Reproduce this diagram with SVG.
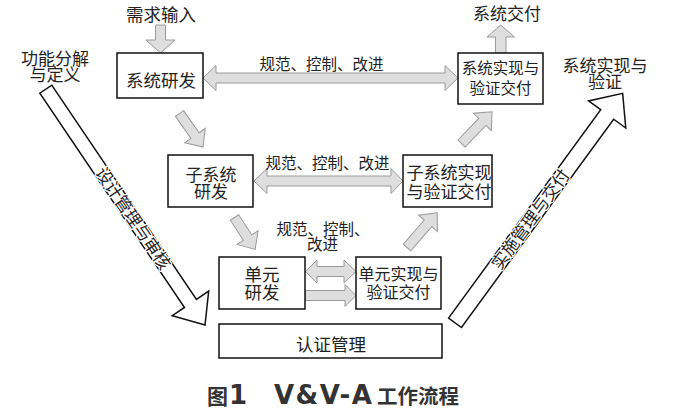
<svg xmlns="http://www.w3.org/2000/svg" width="673" height="414" viewBox="0 0 673 414">
<style>
.box{fill:#fff;stroke:#111;stroke-width:1.5}
.t{font-family:"Noto Sans CJK SC","Noto Sans",sans-serif;fill:#222;text-anchor:middle}
.ga{fill:#dedede;stroke:#9a9a9a;stroke-width:1}
.ba{fill:#fff;stroke:#111;stroke-width:1.5}
.halo{paint-order:stroke;stroke:#fff;stroke-width:2.5;stroke-linejoin:round}
.cap{font-family:"Noto Sans CJK SC","DejaVu Sans",sans-serif;font-weight:bold;fill:#333}
.lat{font-family:"DejaVu Sans",sans-serif;font-size:26px}
</style>
<rect width="673" height="414" fill="#fff"/>

<g id="connectors">
  <path class="ga" d="M155.5,25 H165.5 V40 H175 L160.5,53 L146,40 H155.5 Z"/>
  <path class="ga" d="M495.5,53 V37 H487 L500.7,25 L514.5,37 H506 V53 Z"/>
  <path class="ga" d="M203,78 L216,65.5 V73 H445 V65.5 L458,78 L445,90.5 V83 H216 V90.5 Z"/>
  <path class="ga" d="M254,181 L267,168.5 V176 H391 V168.5 L403,181 L391,193.5 V186 H267 V193.5 Z"/>
  <path class="ga" d="M305.5,271.5 L317,260 V266.5 H344 V260 L356,271.5 L344,283 V276.5 H317 V283 Z"/>
  <path class="ga" d="M305.5,290.5 H345 V284.5 L356,295.5 L345,306.5 V300.5 H305.5 Z"/>
  <path class="ga" transform="translate(179.5,113.5) rotate(54.9)" d="M0,-5 H27 V-12.5 L41,0 L27,12.5 V5 H0 Z"/>
  <path class="ga" transform="translate(234.5,217.5) rotate(57)" d="M0,-5 H24 V-12.5 L38,0 L24,12.5 V5 H0 Z"/>
  <path class="ga" transform="translate(407,247.5) rotate(-49)" d="M0,-5 H32 V-12.5 L46,0 L32,12.5 V5 H0 Z"/>
  <path class="ga" transform="translate(461.5,143.5) rotate(-46)" d="M0,-5 H30 V-12.5 L44,0 L30,12.5 V5 H0 Z"/>
  <g transform="translate(45.8,89.2) rotate(55.97)">
    <path class="ba" d="M0,-7.2 H258.5 V-22 L284.5,0 L258.5,22 V7.2 H0 Z"/>
    <text class="t halo" x="156" y="6" font-size="17">设计管理与审核</text>
  </g>
  <g transform="translate(455,322.8) rotate(-53.85)">
    <path class="ba" d="M0,-8 H258 V-23 L284.2,0 L258,23 V8 H0 Z"/>
    <text class="t halo" x="128" y="6" font-size="17">实施管理与交付</text>
  </g>
  <text class="t" x="321.5" y="70" font-size="15.5">规范、控制、改进</text>
  <text class="t" x="327.5" y="169" font-size="15.5">规范、控制、改进</text>
  <text class="t" font-size="15.5"><tspan x="323" y="235">规范、控制、</tspan><tspan x="322.5" dy="15">改进</tspan></text>
</g>

<g id="label-input"><text class="t" x="161" y="21" font-size="17.5">需求输入</text></g>
<g id="label-output"><text class="t" x="507" y="20" font-size="17">系统交付</text></g>
<g id="label-left"><text class="t" font-size="17"><tspan x="55" y="65">功能分解</tspan><tspan x="55" dy="16">与定义</tspan></text></g>
<g id="label-right"><text class="t" font-size="17"><tspan x="605" y="72">系统实现与</tspan><tspan x="605" dy="16">验证</tspan></text></g>

<g id="sys-dev"><rect class="box" x="117" y="53" width="86" height="45"/><text class="t" x="161" y="87" font-size="17.5">系统研发</text></g>
<g id="sys-impl"><rect class="box" x="458" y="53" width="85" height="51"/><text class="t" font-size="15.5"><tspan x="500.5" y="74">系统实现与</tspan><tspan x="500.5" dy="20">验证交付</tspan></text></g>
<g id="subsys-dev"><rect class="box" x="168" y="155" width="85" height="52"/><text class="t" font-size="17"><tspan x="211" y="181">子系统</tspan><tspan x="211" dy="17">研发</tspan></text></g>
<g id="subsys-impl"><rect class="box" x="403" y="155" width="89" height="52"/><text class="t" font-size="17"><tspan x="449" y="179">子系统实现</tspan><tspan x="449" dy="19">与验证交付</tspan></text></g>
<g id="unit-dev"><rect class="box" x="219" y="257" width="86" height="52"/><text class="t" font-size="17.5"><tspan x="262" y="281">单元</tspan><tspan x="262" dy="18">研发</tspan></text></g>
<g id="unit-impl"><rect class="box" x="356" y="257" width="85" height="52"/><text class="t" font-size="16"><tspan x="398.5" y="280">单元实现与</tspan><tspan x="398.5" dy="18">验证交付</tspan></text></g>
<g id="cert"><rect class="box" x="219" y="324" width="223" height="34"/><text class="t" x="331" y="351" font-size="17.5">认证管理</text></g>

<g id="caption"><text class="cap" y="404"><tspan x="207" font-size="21">图</tspan><tspan x="229" class="lat">1</tspan><tspan x="274" class="lat" letter-spacing="1.5">V&amp;V-A</tspan><tspan x="377" font-size="20.5">工作流程</tspan></text></g>
</svg>
